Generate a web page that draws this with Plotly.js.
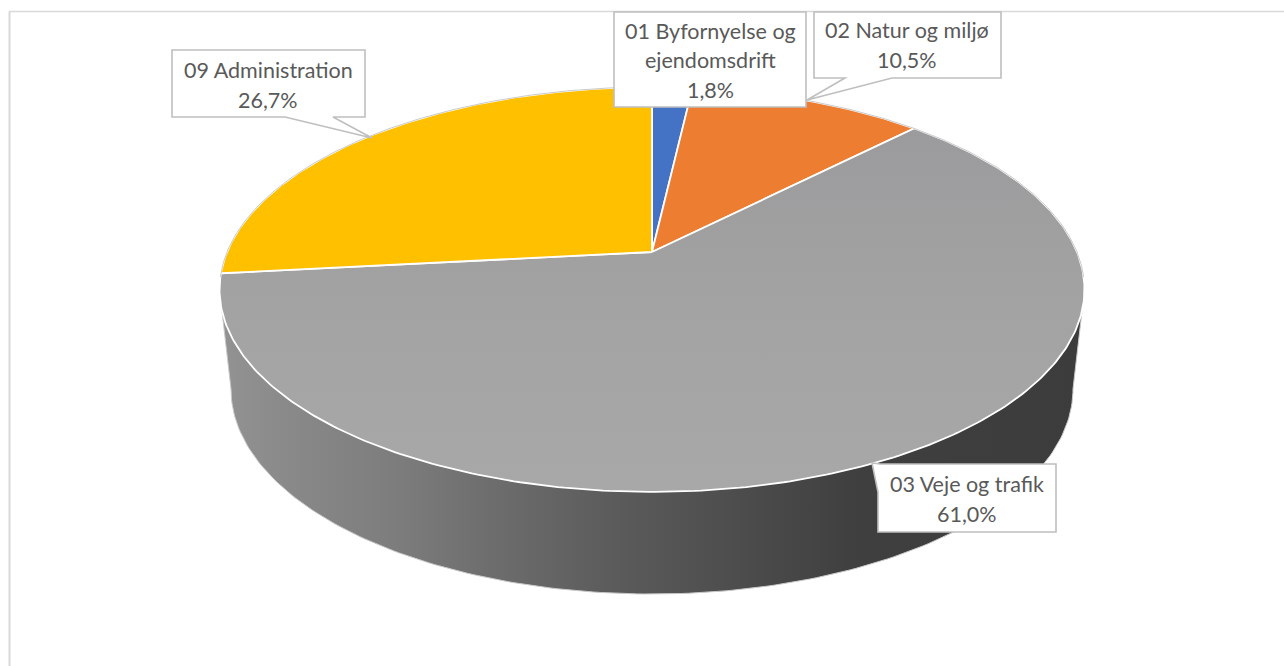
<!DOCTYPE html>
<html><head><meta charset="utf-8">
<script src="https://cdn.plot.ly/plotly-3.0.1.min.js"></script>
<style>html,body{margin:0;padding:0;background:#fff;overflow:hidden}#chart{width:1284px;height:666px}</style>
</head><body><div id="chart"></div>
<script>
const categories = ["01 Byfornyelse og ejendomsdrift", "02 Natur og miljø", "03 Veje og trafik", "09 Administration"];
const shares = [1.8, 10.5, 61.0, 26.7];
const shareLabels = ["1,8%", "10,5%", "61,0%", "26,7%"];
const categoryLines = [["01 Byfornyelse og", "ejendomsdrift"], ["02 Natur og miljø"], ["03 Veje og trafik"], ["09 Administration"]];
const colors = ["#4472c4", "#ed7d31", "#a5a5a5", "#ffc000"];

// perspective projection of the pie's unit disc onto the page
const APEX_X = 652, APEX_Y = 252, HALF_W = 425, BACK_Y = -148.9, PERSP = 0.185;
function project(u, v) {
  const w = 1 + PERSP * v;
  return [APEX_X + HALF_W * u / w, (BACK_Y * v + APEX_Y) / w];
}
function rimPoint(shareFromTop) {
  const a = shareFromTop / 100 * 2 * Math.PI;
  return project(Math.sin(a), Math.cos(a));
}
function arc(from, to) {
  const n = Math.max(2, Math.ceil((to - from) * 5));
  const pts = [];
  for (let i = 0; i <= n; i++) pts.push(rimPoint(from + (to - from) * i / n));
  return pts;
}
const traces = [];

// side wall: silhouette of the lower disc plus the front of the upper one
const WALL_CX = 652, WALL_CY = 389, WALL_RX = 421, WALL_RY = 205;
const wallX = [], wallY = [];
const rimAll = arc(0, 100);
const leftIdx = rimAll.reduce((b, p, i) => p[0] < rimAll[b][0] ? i : b, 0);
const rightIdx = rimAll.reduce((b, p, i) => p[0] > rimAll[b][0] ? i : b, 0);
for (let d = 0; d <= 180; d += 1) {
  const t = d * Math.PI / 180;
  wallX.push(WALL_CX - WALL_RX * Math.cos(t));
  wallY.push(WALL_CY + WALL_RY * Math.sin(t));
}
wallX.push(rimAll[rightIdx][0]); wallY.push(rimAll[rightIdx][1]);
wallX.push(rimAll[leftIdx][0]); wallY.push(rimAll[leftIdx][1]);
wallX.push(wallX[0]); wallY.push(wallY[0]);
traces.push({
  type: "scatter", mode: "lines", x: wallX, y: wallY, fill: "toself", hoverinfo: "skip",
  line: {color: "#c9c9c9", width: 1},
  fillgradient: {type: "horizontal", colorscale: [
    [0, "#939393"], [0.09, "#888888"], [0.21, "#7c7c7c"], [0.30, "#6f6f6f"],
    [0.45, "#5c5c5c"], [0.625, "#4a4a4a"], [0.74, "#3f3f3f"], [1, "#3c3c3c"]]}
});

// top face
let cum = 0;
categories.forEach((name, i) => {
  const pts = arc(cum, cum + shares[i]);
  cum += shares[i];
  const xs = [APEX_X].concat(pts.map(p => p[0]), [APEX_X]);
  const ys = [APEX_Y].concat(pts.map(p => p[1]), [APEX_Y]);
  const t = {
    type: "scatter", mode: "lines", x: xs, y: ys, fill: "toself", name: name,
    text: shareLabels[i], hoverinfo: "name+text", line: {color: "#ffffff", width: 1.8},
    fillcolor: colors[i]
  };
  if (i === 2) {
    t.fillgradient = {type: "vertical", colorscale: [[0, "#a8a8a8"], [0.5, "#a3a3a3"], [1, "#9b9b9d"]]};
    delete t.fillcolor;
  }
  traces.push(t);
});
// thin grey back rim
const back = arc(-27, 27);
traces.push({type: "scatter", mode: "lines", hoverinfo: "skip",
  x: back.map(p => p[0]), y: back.map(p => p[1]), line: {color: "#bdbdbd", width: 0.8}});

// callouts
const callout = (d) => ({type: "path", path: d, xref: "x", yref: "y", layer: "above",
  line: {color: "#bfbfbf", width: 1.6}, fillcolor: "#ffffff"});
const shapes = [
  {type: "line", xref: "x", yref: "y", x0: 9.5, x1: 9.5, y0: 11.5, y1: 666, line: {color: "#d9d9d9", width: 2}, layer: "below"},
  {type: "line", xref: "x", yref: "y", x0: 9, x1: 1284, y0: 11.5, y1: 11.5, line: {color: "#d9d9d9", width: 1.5}, layer: "below"},
  callout("M814,12 H1001 V78 H892 L807,100 L845,78 H814 Z"),
  callout("M614,12 H806 V107 H614 Z"),
  callout("M172,50 H365 V117 H333 L372,138 L285,117 H172 Z"),
  callout("M878,464 H1056 V532 H878 V492 L872,463 L880,464 Z")
];

// label text
const labelCenters = [[710, [31, 60, 90]], [907, [30, 60]], [967, [484, 514]], [268, [70, 100]]];
const annotations = [];
categories.forEach((name, i) => {
  const lines = categoryLines[i].concat([shareLabels[i]]);
  lines.forEach((txt, k) => annotations.push({
    x: labelCenters[i][0], y: labelCenters[i][1][k], xref: "x", yref: "y", text: txt,
    showarrow: false, xanchor: "center", yanchor: "middle",
    font: {family: "Lato, 'Open Sans', sans-serif", size: 21.5, color: "#595959"}
  }));
});

Plotly.newPlot("chart", traces, {
  width: 1284, height: 666, margin: {l: 0, r: 0, t: 0, b: 0},
  paper_bgcolor: "#ffffff", plot_bgcolor: "#ffffff", showlegend: false,
  xaxis: {range: [0, 1284], visible: false, fixedrange: true},
  yaxis: {range: [666, 0], visible: false, fixedrange: true},
  shapes: shapes, annotations: annotations
}, {displayModeBar: false});
</script></body></html>
